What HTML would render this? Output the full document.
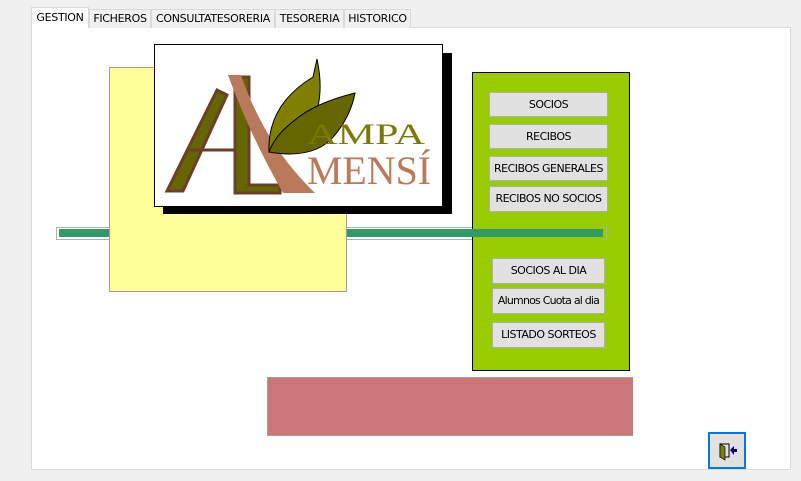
<!DOCTYPE html>
<html><head><style>
body{margin:0;width:801px;height:481px;background:#f0f0f0;position:relative;overflow:hidden;font-family:"DejaVu Sans","Liberation Sans",sans-serif;}
.a{position:absolute;box-sizing:border-box}
.tab{position:absolute;top:9px;height:19px;border:1px solid #d9d9d9;border-bottom:none;background:#f0f0f0;font-size:11px;line-height:18px;text-align:center;color:#000;box-sizing:border-box;letter-spacing:-0.3px;white-space:nowrap}
.btn{position:absolute;background:#e1e1e1;border:1px solid #adadad;font-size:11px;text-align:center;box-sizing:border-box;letter-spacing:-0.5px;white-space:nowrap;overflow:hidden}
</style></head><body>
<div class="a" style="left:31px;top:27px;width:760px;height:443px;background:#fff;border:1px solid #d9d9d9"></div>
<div class="tab" style="left:31px;top:7px;width:58px;height:21px;background:#fff;line-height:20px">GESTION</div>
<div class="tab" style="left:89px;width:62px">FICHEROS</div>
<div class="tab" style="left:151px;width:124px">CONSULTATESORERIA</div>
<div class="tab" style="left:275px;width:69px">TESORERIA</div>
<div class="tab" style="left:344px;width:67px">HISTORICO</div>

<div class="a" style="left:56px;top:227px;width:551px;height:13px;border:1px solid #b0b0b0;background:#fff"></div>
<div class="a" style="left:472px;top:72px;width:158px;height:299px;background:#99cc00;border:1px solid #000"></div>
<div class="a" style="left:59px;top:229px;width:544px;height:8px;background:#339966"></div>
<div class="a" style="left:603px;top:227px;width:4px;height:13px;border:1px solid #b0b0b0;border-left:none"></div>
<div class="a" style="left:109px;top:67px;width:238px;height:225px;background:#ffff99;border:1px solid #a0a0a0"></div>

<div class="a" style="left:163px;top:53px;width:289px;height:161px;background:#000"></div>
<div class="a" style="left:154px;top:44px;width:289px;height:163px;background:#fff;border:1px solid #000">
<svg width="287" height="161" viewBox="0 0 287 161">
<path d="M12 146 L62 45 L72 50 L28 146 Z" fill="#666600" stroke="#6b3f2a" stroke-width="3"/>
<path d="M80 32 L94 32 L94 140 L125 140 L125 148 L80 148 Z" fill="#666600" stroke="#6b3f2a" stroke-width="3"/>
<line x1="35" y1="105" x2="80" y2="105" stroke="#6b3f2a" stroke-width="3"/>
<path d="M73 30 L86 30 Q110 100 160 148 L128 148 Q95 90 73 30 Z" fill="#b87a5a"/>
<path d="M114 107 Q112 60 158 32 L162 14 Q172 60 150 90 Q130 105 114 107 Z" fill="#808000" stroke="#000" stroke-width="1"/>
<path d="M114 107 Q160 115 180 90 Q196 70 200 48 Q160 58 140 75 Q120 90 114 107 Z" fill="#666600" stroke="#000" stroke-width="1"/>
<text x="152" y="99" font-family="Liberation Serif,serif" font-size="30" fill="#7a7a00" textLength="118" lengthAdjust="spacingAndGlyphs">AMPA</text>
<text x="152" y="139" font-family="Liberation Serif,serif" font-size="40" fill="#b87a5a" textLength="124" lengthAdjust="spacingAndGlyphs">MENSÍ</text>
</svg></div>

<div class="btn" style="left:489px;top:92px;width:119px;height:25px;line-height:23px">SOCIOS</div>
<div class="btn" style="left:489px;top:124px;width:119px;height:25px;line-height:23px">RECIBOS</div>
<div class="btn" style="left:489px;top:156px;width:119px;height:25px;line-height:23px">RECIBOS GENERALES</div>
<div class="btn" style="left:489px;top:186px;width:119px;height:26px;line-height:24px">RECIBOS NO SOCIOS</div>
<div class="btn" style="left:492px;top:258px;width:113px;height:26px;line-height:24px">SOCIOS AL DIA</div>
<div class="btn" style="left:492px;top:288px;width:113px;height:26px;line-height:24px;letter-spacing:-0.8px">Alumnos Cuota al dia</div>
<div class="btn" style="left:492px;top:322px;width:113px;height:26px;line-height:24px">LISTADO SORTEOS</div>

<div class="a" style="left:267px;top:377px;width:366px;height:59px;background:#cc7777;border:1px solid #a0a0a0;border-right:none"></div>

<div class="a" style="left:708px;top:432px;width:38px;height:37px;background:#e1e1e1;border:2px solid #0078d7">
<svg width="34" height="33"><rect x="10" y="10" width="9" height="13" fill="none" stroke="#000"/><path d="M10 10 L15 13 L15 26 L10 23 Z" fill="#808000" stroke="#000" stroke-width="0.7"/><path d="M20 16 L24 12 L24 15 L27 15 L27 18 L24 18 L24 21 Z" fill="#000080"/></svg>
</div>
</body></html>
